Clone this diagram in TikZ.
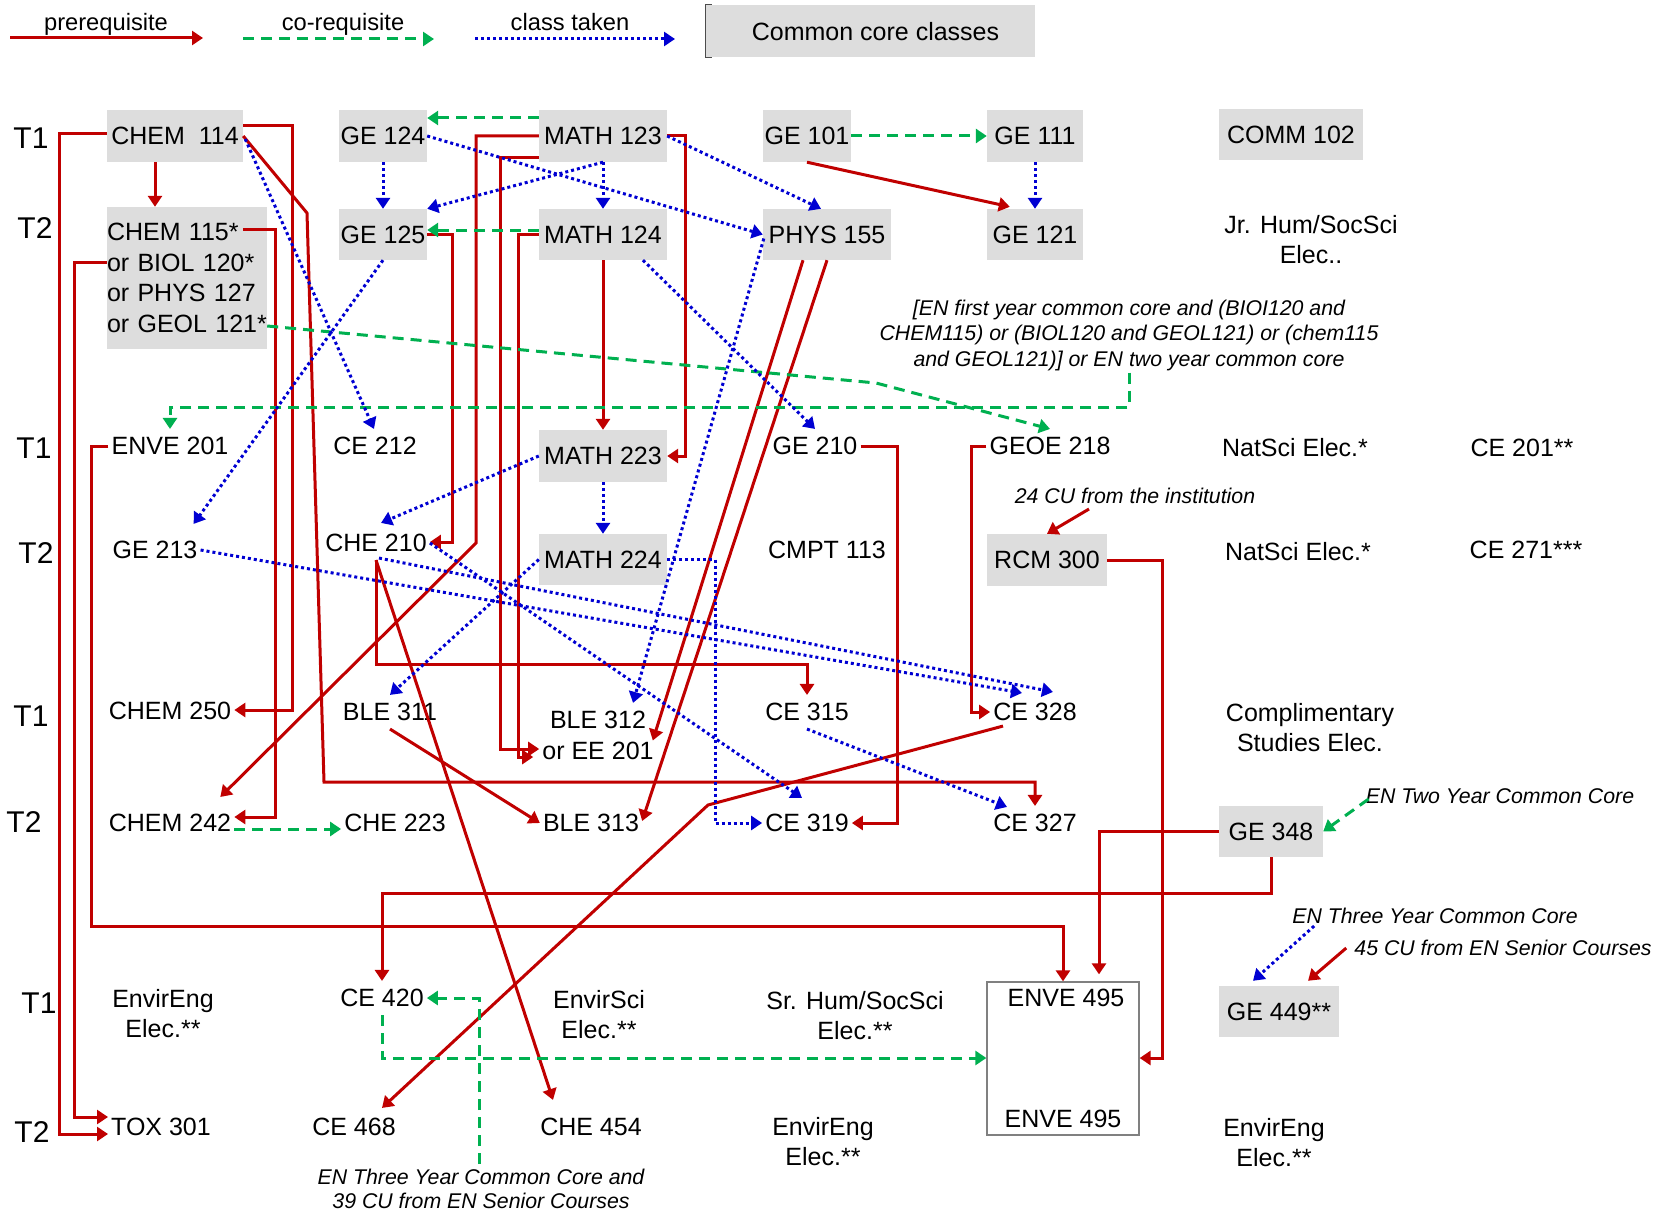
\documentclass[tikz,border=0pt]{standalone}
\usepackage{fontspec}
\setmainfont{Liberation Sans}
\usetikzlibrary{arrows.meta,calc}
\definecolor{cred}{RGB}{192,0,0}
\definecolor{cgreen}{RGB}{0,176,80}
\definecolor{cblue}{RGB}{0,0,210}
\definecolor{cbox}{RGB}{221,221,221}
\definecolor{cborder}{RGB}{128,128,128}
\newcommand\myCfont{\fontsize{25}{30}\selectfont}
\newcommand\myIfont{\fontsize{21.3}{25.5}\selectfont\itshape}
\newcommand\myTfont{\fontsize{30}{36}\selectfont}
\newcommand\myLfont{\fontsize{23.7}{28}\selectfont}
\begin{document}
\begin{tikzpicture}[x=1pt,y=-1pt,
  lbl/.style={font=\myCfont, inner xsep=3pt, inner ysep=8pt, align=center},
  gbox/.style={font=\myCfont, fill=cbox, inner sep=0pt, minimum height=52pt},
  note/.style={font=\myIfont, inner sep=2pt, align=center},
  tlbl/.style={font=\myTfont, inner sep=0pt},
  tipA/.style={-{Triangle[length=11pt,width=14pt]}},
  pre/.style={draw=cred, line width=3pt, tipA},
  co/.style={draw=cgreen, line width=3pt, dash pattern=on 11pt off 7pt, tipA},
  tk/.style={draw=cblue, line width=3pt, dash pattern=on 3pt off 3pt, tipA},
]
\fill[white] (0,0) rectangle (1668,1212);
\useasboundingbox (0,0) rectangle (1668,1212);

% ---------- legend ----------
\coordinate (l1a) at (10,38);  \coordinate (l1b) at (203,38);
\coordinate (l2a) at (243,39); \coordinate (l2b) at (434,39);
\coordinate (l3a) at (475,39); \coordinate (l3b) at (675,39);
\draw[pre] (l1a) -- (l1b);
\draw[co] (l2a) -- (l2b);
\draw[tk] (l3a) -- (l3b);
\node[font=\myLfont, inner sep=0pt, anchor=base] (legpre) at (106,31) {prerequisite};
\node[font=\myLfont, inner sep=0pt, anchor=base] (legco) at (343,31) {co-requisite};
\node[font=\myLfont, inner sep=0pt, anchor=base] (legtk) at (570,31) {class taken};
\node[gbox, minimum width=329pt, text depth=0pt] (legbox) at (870.5,31) {\hspace*{10pt}Common core classes};
\draw[line width=1.2pt, black!70] ($(legbox.north west)+(6,0)$) -- (legbox.north west) -- (legbox.south west) -- ($(legbox.south west)+(6,0)$);

% ---------- term labels ----------
\node[tlbl] (ta) at (31,138) {T1};
\node[tlbl] (tb) at (35,228) {T2};
\node[tlbl] (tc) at (34,448) {T1};
\node[tlbl] (td) at (36,553) {T2};
\node[tlbl] (te) at (31,716) {T1};
\node[tlbl] (tf) at (24,822) {T2};
\node[tlbl] (tg) at (39,1003) {T1};
\node[tlbl] (th) at (32,1132) {T2};

% ---------- common core boxes ----------
\node[gbox, minimum width=136pt] (chem114) at (175,136) {CHEM\ \ 114};
\node[gbox, minimum width=88pt] (ge124) at (383,136) {GE 124};
\node[gbox, minimum width=128pt] (math123) at (603,136) {MATH 123};
\node[gbox, minimum width=88pt] (ge101) at (807,136) {GE 101};
\node[gbox, minimum width=96pt] (ge111) at (1035,136) {GE 111};
\node[gbox, minimum width=144pt, minimum height=51pt] (comm102) at (1291,135) {COMM 102};
\node[gbox, minimum width=160pt, minimum height=142pt, align=left, text width=160pt,
      font=\fontsize{25}{30.7}\selectfont] (chem115) at (187,278)
      {CHEM 115*\\or BIOL 120*\\or PHYS 127\\or GEOL 121*};
\node[gbox, minimum width=88pt, minimum height=51pt] (ge125) at (383,234.5) {GE 125};
\node[gbox, minimum width=128pt, minimum height=51pt] (math124) at (603,234.5) {MATH 124};
\node[gbox, minimum width=128pt, minimum height=51pt] (phys155) at (827,234.5) {PHYS 155};
\node[gbox, minimum width=96pt, minimum height=51pt] (ge121) at (1035,234.5) {GE 121};
\node[gbox, minimum width=128pt] (math223) at (603,456) {MATH 223};
\node[gbox, minimum width=128pt, minimum height=51pt] (math224) at (603,559.5) {MATH 224};
\node[gbox, minimum width=120pt] (rcm300) at (1047,560) {RCM 300};
\node[gbox, minimum width=104pt, minimum height=51pt] (ge348) at (1271,831.5) {GE 348};
\node[gbox, minimum width=120pt, minimum height=51pt] (ge449) at (1279,1011.5) {GE 449**};

% ---------- ENVE 495 box ----------
\node[draw=cborder, line width=1.3pt, minimum width=152pt, minimum height=153pt, inner sep=0pt] (enve495) at (1063,1058.5) {};
\node[lbl] (enve495a) at (1066,998) {ENVE 495};
\node[lbl] (enve495b) at (1063,1119) {ENVE 495};

% ---------- other courses ----------
\node[lbl] (jrhum) at (1311,240) {Jr. Hum/SocSci\\Elec..};
\node[lbl] (enve201) at (170,446) {ENVE 201};
\node[lbl] (ce212) at (375,446) {CE 212};
\node[lbl] (ge210) at (815,446) {GE 210};
\node[lbl] (geoe218) at (1050,446) {GEOE 218};
\node[lbl] (natsci1) at (1295,448) {NatSci Elec.*};
\node[lbl] (ce201) at (1522,448) {CE 201**};
\node[lbl] (ge213) at (155,550) {GE 213};
\node[lbl] (che210) at (376,543) {CHE 210};
\node[lbl] (cmpt113) at (827,550) {CMPT 113};
\node[lbl] (natsci2) at (1298,552) {NatSci Elec.*};
\node[lbl] (ce271) at (1526,550) {CE 271***};
\node[lbl] (chem250) at (170,711) {CHEM 250};
\node[lbl] (ble311) at (390,712) {BLE 311};
\node[lbl, font=\fontsize{25}{31}\selectfont] (ble312) at (598,735.5) {BLE 312\\or EE 201};
\node[lbl] (ce315) at (807,712) {CE 315};
\node[lbl] (ce328) at (1035,712) {CE 328};
\node[lbl] (compl) at (1310,728) {Complimentary\\Studies Elec.};
\node[lbl] (chem242) at (170,823) {CHEM 242};
\node[lbl] (che223) at (395,823) {CHE 223};
\node[lbl] (ble313) at (591,823) {BLE 313};
\node[lbl] (ce319) at (807,823) {CE 319};
\node[lbl] (ce327) at (1035,823) {CE 327};
\node[lbl] (envireng1) at (163,1013.5) {EnvirEng\\Elec.**};
\node[lbl] (ce420) at (382,998) {CE 420};
\node[lbl] (envirsci) at (599,1015) {EnvirSci\\Elec.**};
\node[lbl] (srhum) at (855,1015.5) {Sr. Hum/SocSci\\Elec.**};
\node[lbl] (tox301) at (161,1127) {TOX 301};
\node[lbl] (ce468) at (354,1127) {CE 468};
\node[lbl] (che454) at (591,1127) {CHE 454};
\node[lbl] (envireng2) at (823,1141.5) {EnvirEng\\Elec.**};
\node[lbl] (envireng3) at (1274,1143) {EnvirEng\\Elec.**};

% ---------- notes ----------
\node[note] (note1) at (1129,335) {[EN first year common core and (BIOI120 and\\CHEM115) or (BIOL120 and GEOL121) or (chem115\\and GEOL121)] or EN two year common core};
\node[note] (cu24) at (1135,496) {24 CU from the institution};
\node[note] (en2yr) at (1500,796) {EN Two Year Common Core};
\node[note] (en3yr) at (1435,916) {EN Three Year Common Core};
\node[note] (cu45) at (1503,948) {45 CU from EN Senior Courses};
\node[note, font=\fontsize{21.3}{23.5}\selectfont\itshape] (note3) at (481,1189) {EN Three Year Common Core and\\39 CU from EN Senior Courses};

% ---------- prerequisites (red) ----------
\draw[pre] ([xshift=-20pt]chem114.south) -- ([xshift=-32pt]chem115.north);
\draw[pre] (chem114.west |- 0,134) -| (59,1134) -- (tox301.west |- 0,1134);
\draw[pre] (chem115.west |- 0,262) -| (74,1117) -- (tox301.west |- 0,1117);
\draw[pre] (enve201.west) -| (91,926) -| (enve495.north);
\draw[pre] (chem114.east |- 0,126) -| (292,710) -- (chem250.east |- 0,710);
\draw[pre] (chem114.east) -- (307,213) -- (324,782) -| (ce327.north);
\draw[pre] ($(chem115.north west)+(136,23)$) -| (275,817) -- (chem242.east |- 0,817);
\draw[pre] (ge125.east) -| (452,542) -- (che210.east |- 0,542);
\draw[pre] (math123.east) -| (685,456) -- (math223.east);
\draw[pre] (math123.west) -| (476,543) -- ($(chem242.north east)+(-14,-9)$);
\draw[pre] (math123.west |- 0,158) -| (500,749) -- (ble312.west |- 0,749);
\draw[pre] (math124.west) -| (518,757) -- ($(ble312.west |- 0,757)+(-6,0)$);
\draw[pre] (math124.south) -- (math223.north);
\draw[pre] ($(phys155.south)+(-24,0)$) -- ($(ble312.east)+(-4,5)$);
\draw[pre] (phys155.south) -- ($(ble313.east)+(0,-2)$);
\draw[pre] (ge101.south) -- ($(ge121.north west)+(23,-2)$);
\draw[pre] (che210.south) -- (che210.south |- 0,664) -| (ce315.north);
\draw[pre] (che210.south) -- ($(che454.north)+(-38,-10)$);
\draw[pre] (ble311.south) -- (ble313.west);
\draw[pre] (ge210.east) -| (897,823) -- (ce319.east);
\draw[pre] (geoe218.west) -| (971,712) -- (ce328.west);
\draw[pre] ($(cu24.south)+(-46,3)$) -- (rcm300.north);
\draw[pre] (rcm300.east) -| (1162,1058) -- (enve495.east |- 0,1058);
\draw[pre] ($(ce328.south)+(-32,-3)$) -- (708,805) -- ($(ce468.north)+(28,-2)$);
\draw[pre] (ge348.west) -| ($(enve495.north)+(36,-7)$);
\draw[pre] (ge348.south) -- (ge348.south |- 0,893) -| (ce420.north);
\draw[pre] ($(cu45.west)+(-6,0)$) -- ($(ge449.north)+(29,-5)$);

% ---------- co-requisites (green) ----------
\draw[co] (math123.west |- 0,118) -- (ge124.east |- 0,118);
\draw[co] (math124.west |- 0,230) -- (ge125.east |- 0,230);
\draw[co] (ge101.east) -- (ge111.west);
\draw[co] (chem115.east |- 0,326) -- (876,383) -- (geoe218.north);
\draw[co] (note1.south) |- (enve201.north |- 0,407) -- (enve201.north);
\draw[co] (chem242.east |- 0,829) -- (che223.west |- 0,829);
\draw[co] ($(note3.north)+(-2,-3)$) |- (ce420.east);
\draw[co] (ce420.south) |- (enve495.west |- 0,1058);
\draw[co] ($(en2yr.west)+(5,3)$) -- (ge348.east);

% ---------- classes taken (blue) ----------
\draw[tk] ($(chem114.east)+(2,3)$) -- ($(ce212.north)+(-1,0)$);
\draw[tk] (ge124.south) -- (ge125.north);
\draw[tk] (ge124.east) -- (phys155.west);
\draw[tk] (math123.south) -- (ge125.north east);
\draw[tk] (math123.south) -- (math124.north);
\draw[tk] (math123.east) -- ($(phys155.north)+(-6,0)$);
\draw[tk] (ge111.south) -- (ge121.north);
\draw[tk] ($(math124.south)+(40,0)$) -- (ge210.north);
\draw[tk] (math223.south) -- (math224.north);
\draw[tk] (math223.west) -- ($(che210.north)+(5,-3)$);
\draw[tk] (math224.west) -- (ble311.north);
\draw[tk] (math224.east) -| (715,823) -- (ce319.west);
\draw[tk] ($(phys155.west)+(1,4)$) -- ($(ble312.north)+(35,0)$);
\draw[tk] (ge125.south) -- ($(ge213.north east)+(-7,-9)$);
\draw[tk] (ge213.east) -- ($(ce328.north)+(-13,-2)$);
\draw[tk] ($(che210.south)+(3,-2)$) -- ($(ce328.north)+(18,-3)$);
\draw[tk] (che210.east) -- ($(ce319.north)+(-5,-8)$);
\draw[tk] (ce315.south) -- ($(ce327.north)+(-28,1)$);
\draw[tk] ($(en3yr.south west)+(24,0)$) -- ($(ge449.north)+(-26,-5)$);
\end{tikzpicture}
\end{document}
